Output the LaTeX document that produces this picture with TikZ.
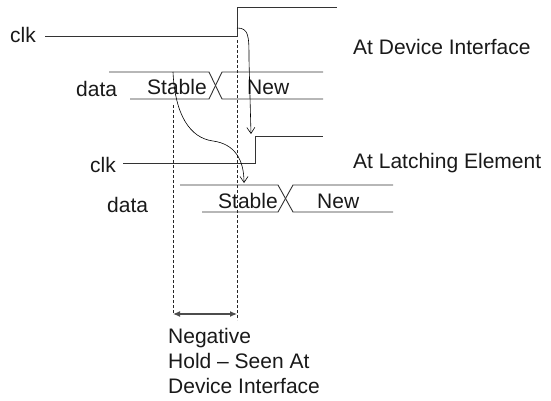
\documentclass[tikz,border=0pt]{standalone}
\usepackage{fontspec}
\setmainfont{Liberation Sans}
\usetikzlibrary{arrows.meta}
\begin{document}
\begin{tikzpicture}[x=1pt, y=-1pt,
        lbl/.style={inner sep=0pt, anchor=base west, text=black!90,
            font=\fontsize{21}{25}\selectfont},
        wave/.style={line width=0.9pt, black!80},
        guide/.style={line width=0.6pt, black!85, dash pattern=on 3pt off 2pt},
        flow/.style={line width=0.6pt, -{Straight Barb[length=6pt,width=8pt]}},
        measure/.style={line width=1.2pt, black!70,
            {Latex[length=7pt,width=6pt]}-{Latex[length=7pt,width=6pt]}}]
        \useasboundingbox (0,0) rectangle (551,401);

        % --- ラベル ---
        \node[lbl] (clkA)    at (10,43)  {clk};
        \node[lbl] (dataA)   at (76,97)  {data};
        \node[lbl] (stableA) at (147,95) {Stable};
        \node[lbl] (newA)    at (247,95) {New};
        \node[lbl] (titleA)  at (353,55) {At Device Interface};

        \node[lbl] (clkB)    at (90,172)  {clk};
        \node[lbl] (dataB)   at (107,212) {data};
        \node[lbl] (stableB) at (218,208) {Stable};
        \node[lbl] (newB)    at (317,208) {New};
        \node[lbl] (titleB)  at (353,168) {At Latching Element};

        % --- クロック ---
        \draw[wave] (45,36) -- (237,36) -- (237,7) -- (337,7);
        \draw[wave] (123,163) -- (255,163) -- (255,136) -- (323,136);

        % --- データ ---
        \foreach \xa/\xb/\xc/\xd/\xe/\y in {109/130/209/222/323/72, 180/202/278/293/393/185} {
            \draw[wave] (\xa,\y) -- (\xc,\y) -- (\xd,\y+27) -- (\xe,\y+27);
            \draw[wave] (\xb,\y+27) -- (\xc,\y+27) -- (\xd,\y) -- (\xe,\y);
        }

        % --- 補助線 ---
        \draw[guide] (173,105) -- (173,314);
        \draw[guide] (237,40) -- (237,320);

        % --- 矢印 ---
        \coordinate (edgeA) at (237,28);
        \coordinate (edgeB) at (251,134);
        \draw[flow] (edgeA) .. controls (249,28) and (249,36) .. (249,60) -- (edgeB);

        \coordinate (holdA) at (173,72);
        \coordinate (holdB) at (244,183);
        \draw[flow] (holdA) .. controls (175,115) and (190,138) .. (213,141)
            .. controls (235,144) and (244,160) .. (holdB);

        \coordinate (holdL) at (173,314);
        \coordinate (holdR) at (237,314);
        \draw[measure] (holdL) -- (holdR);

        % --- 説明 ---
        \foreach \txt [count=\k] in {Negative, Hold -- Seen At, Device Interface} {
            \node[lbl] (note\k) at (168,318+25*\k) {\txt};
        }

    \end{tikzpicture}
\end{document}
